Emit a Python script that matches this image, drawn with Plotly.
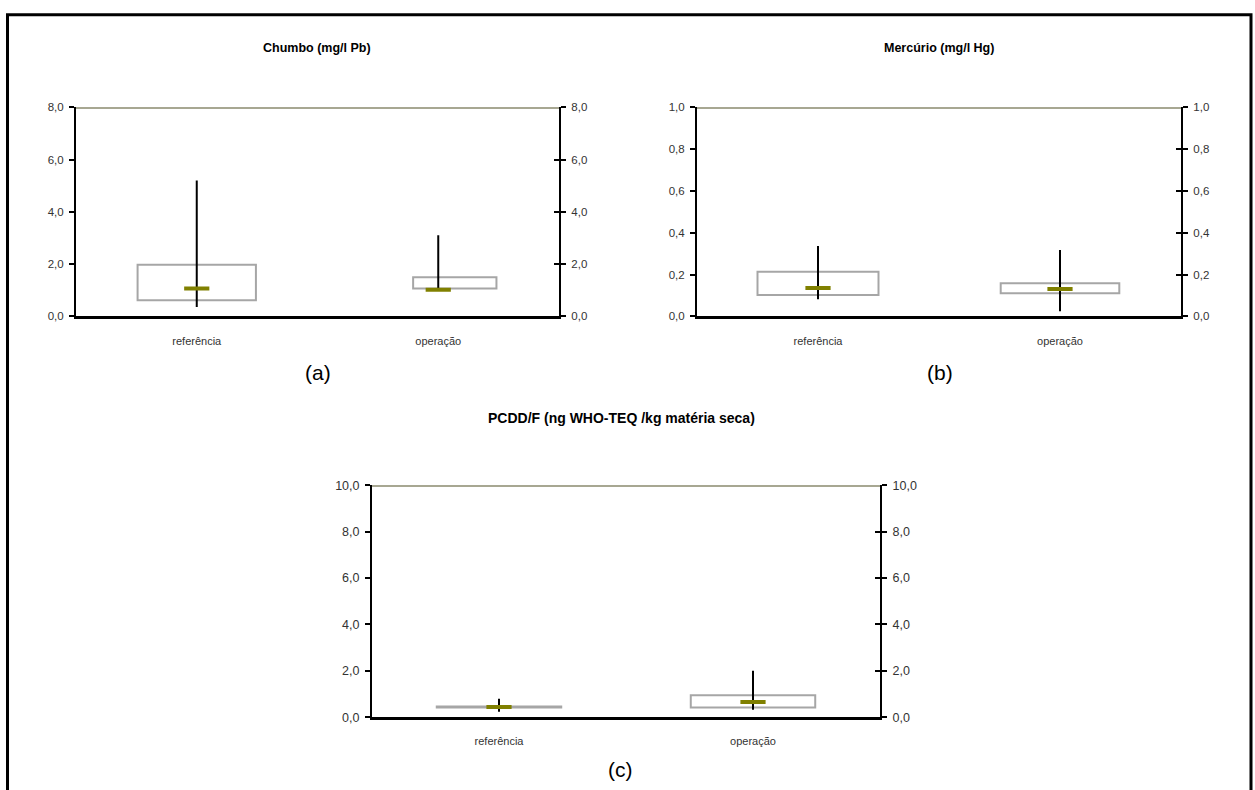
import plotly.graph_objects as go

W, H = 1255, 790

cats = ["referência", "operação"]

# Chumbo (mg/l Pb)
pb_q1 = [0.62, 1.07]
pb_q3 = [1.98, 1.50]
pb_med = [1.07, 1.02]
pb_lo = [0.36, 1.00]
pb_hi = [5.20, 3.10]
pb_limit = 8.0

# Mercúrio (mg/l Hg)
hg_q1 = [0.102, 0.111]
hg_q3 = [0.214, 0.159]
hg_med = [0.136, 0.131]
hg_lo = [0.082, 0.025]
hg_hi = [0.336, 0.318]
hg_limit = 1.0

# PCDD/F (ng WHO-TEQ /kg matéria seca)
pc_q1 = [0.42, 0.42]
pc_q3 = [0.46, 0.95]
pc_med = [0.44, 0.66]
pc_lo = [0.23, 0.32]
pc_hi = [0.79, 2.00]
pc_limit = 10.0

titles = ["Chumbo (mg/l Pb)", "Mercúrio (mg/l Hg)", "PCDD/F (ng WHO-TEQ /kg matéria seca)"]
panel_labels = ["(a)", "(b)", "(c)"]
y_max = [8.0, 1.0, 10.0]
y_dtick = [2.0, 0.2, 2.0]

# box drawing styles (width and offset in category units)
box_widths = [[0.49, 0.345], [0.50, 0.49], [0.49, 0.49]]
box_offsets = [[-0.245, -0.104], [-0.25, -0.245], [-0.245, -0.245]]

FONT = "Liberation Sans, Arial, sans-serif"

# panel geometry in pixels: (left, right, top, bottom)
panels_px = [(76, 559, 102, 315), (697, 1181, 102, 315), (372, 880, 487, 723)]
title_pos = [(317, 42), (939, 42), (621, 418)]
label_pos = [(318, 372), (940, 372), (620, 776)]
tick_sizes = [11.5, 11.5, 12.5]
title_sizes = [12.5, 12.5, 14]

fig = go.Figure()

data = [
    (pb_q1, pb_q3, pb_med, pb_lo, pb_hi, pb_limit),
    (hg_q1, hg_q3, hg_med, hg_lo, hg_hi, hg_limit),
    (pc_q1, pc_q3, pc_med, pc_lo, pc_hi, pc_limit),
]

layout_axes = {}
shapes = []
annotations = []

for i, (q1, q3, med, lo, hi, lim) in enumerate(data):
    n = i + 1
    xa = "x" if n == 1 else f"x{n}"
    ya = "y" if n == 1 else f"y{n}"
    l, r, t, b = panels_px[i]
    xdom = [l / W, r / W]
    ydom = [(H - b) / H, (H - t) / H]
    tickfont = dict(family=FONT, size=tick_sizes[i], color="#333333")

    fig.add_trace(go.Bar(
        x=cats, y=[a - c for a, c in zip(q3, q1)], base=q1,
        width=box_widths[i], offset=box_offsets[i],
        marker=dict(color="white", line=dict(color="#a6a6a6", width=2)),
        xaxis=xa, yaxis=ya, hoverinfo="skip"))
    fig.add_trace(go.Scatter(
        x=cats, y=med, mode="markers",
        marker=dict(size=1, color="rgba(0,0,0,0)"),
        error_y=dict(type="data", symmetric=False,
                     array=[h - m for h, m in zip(hi, med)],
                     arrayminus=[m - lw for m, lw in zip(med, lo)],
                     width=0, thickness=2, color="black"),
        xaxis=xa, yaxis=ya, hoverinfo="skip"))
    fig.add_trace(go.Scatter(
        x=cats, y=med, mode="markers",
        marker=dict(symbol="line-ew", size=18, color="#808000",
                    line=dict(width=4, color="#808000")),
        xaxis=xa, yaxis=ya, hoverinfo="skip"))

    layout_axes[f"xaxis{'' if n == 1 else n}"] = dict(
        domain=xdom, anchor=ya, type="category", categoryorder="array",
        categoryarray=cats, range=[-0.5, 1.5],
        showline=True, linecolor="black", linewidth=3,
        ticks="", ticklabelstandoff=12, showgrid=False, zeroline=False,
        tickfont=dict(family=FONT, size=11, color="#333333"), fixedrange=True)
    layout_axes[f"yaxis{'' if n == 1 else n}"] = dict(
        domain=ydom, anchor=xa, range=[0, y_max[i]], dtick=y_dtick[i],
        tick0=0, tickformat=".1f",
        showline=True, linecolor="black", linewidth=2,
        ticks="outside", ticklen=5, tickwidth=2, tickcolor="black",
        ticklabelstandoff=3,
        showgrid=False, zeroline=False,
        tickfont=tickfont, fixedrange=True)
    ra = 3 + 2 * n
    layout_axes[f"yaxis{ra}"] = dict(
        overlaying=ya, anchor=xa, side="right", range=[0, y_max[i]],
        dtick=y_dtick[i], tick0=0, tickformat=".1f",
        showline=True, linecolor="black", linewidth=2,
        ticks="outside", ticklen=5, tickwidth=2, tickcolor="black",
        ticklabelstandoff=3,
        showgrid=False, zeroline=False,
        tickfont=tickfont, fixedrange=True)
    layout_axes[f"yaxis{ra + 1}"] = dict(
        overlaying=ya, anchor=xa, side="right", range=[0, y_max[i]],
        dtick=y_dtick[i], tick0=0, showticklabels=False,
        showline=False, ticks="inside", ticklen=5, tickwidth=2, tickcolor="black",
        showgrid=False, zeroline=False, fixedrange=True)

    # limit line along the top of the plot
    shapes.append(dict(type="line", xref=f"{xa} domain", yref=ya,
                       x0=0, x1=1, y0=lim, y1=lim,
                       line=dict(color="#8a8a6e", width=3)))

    tx, ty = title_pos[i]
    px, py = label_pos[i]
    annotations.append(dict(text=f"<b>{titles[i]}</b>", x=tx / W, y=(H - ty) / H,
                            xref="paper", yref="paper", showarrow=False,
                            xanchor="center", yanchor="middle",
                            font=dict(family=FONT, size=title_sizes[i], color="black")))
    annotations.append(dict(text=panel_labels[i], x=px / W, y=(H - py) / H,
                            xref="paper", yref="paper", showarrow=False,
                            xanchor="center", yanchor="middle",
                            font=dict(family=FONT, size=21, color="black")))

# outer frame (open at the bottom edge of the picture)
shapes.append(dict(type="rect", xref="paper", yref="paper",
                   x0=7.5 / W, x1=1251 / W, y0=-0.05, y1=(H - 8) / H,
                   line=dict(color="black", width=3), layer="above"))

# dummy traces to activate right axes
for n in range(1, 4):
    xa = "x" if n == 1 else f"x{n}"
    ra = 3 + 2 * n
    for k in (ra, ra + 1):
        fig.add_trace(go.Scatter(x=[cats[0]], y=[None], xaxis=xa, yaxis=f"y{k}",
                                 mode="markers", showlegend=False, hoverinfo="skip"))

fig.update_layout(
    width=W, height=H, margin=dict(l=0, r=0, t=0, b=0),
    paper_bgcolor="white", plot_bgcolor="white", showlegend=False,
    separators=",.", shapes=shapes, annotations=annotations,
    **layout_axes)

fig.write_html("out.html")
